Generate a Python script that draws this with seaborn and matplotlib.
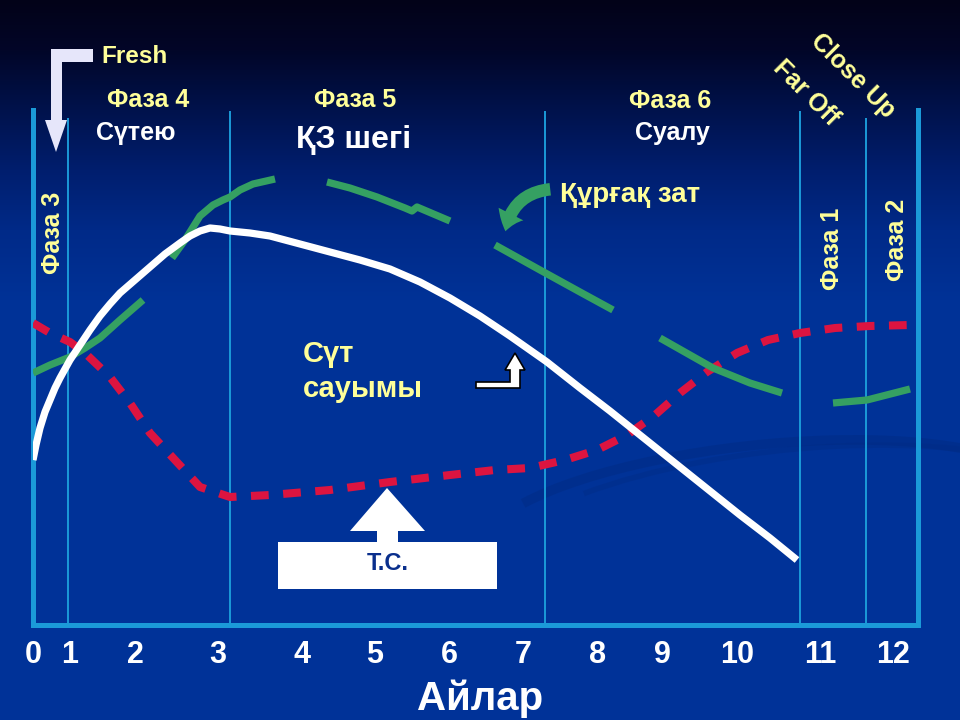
import numpy as np
import pandas as pd
import matplotlib
matplotlib.use('Agg')
import matplotlib.pyplot as plt
import seaborn as sns
from matplotlib.patches import Polygon, Rectangle, FancyArrowPatch, Arc

sns.set_theme(style='white')
plt.rcParams['font.family'] = ['Liberation Sans', 'DejaVu Sans']

# ---------------- data ----------------
month_labels = [str(i) for i in range(13)]
month_pos = [33, 70, 135, 218, 302, 375, 449, 523, 598, 662, 737, 820, 893]
phase_lines = [68, 230, 545, 800, 866]
phase_tops = [507, 514, 514, 514, 507]

# milk yield (Сүт сауымы)
milk_x = [33, 36, 40, 45, 50, 55, 60, 70, 80, 90, 100, 110, 120, 135, 150, 165,
          180, 190, 200, 210, 220, 230, 250, 270, 300, 330, 360, 390, 420, 450,
          480, 510, 547, 580, 610, 640, 670, 705, 740, 770, 797]
milk_y = [165, 180, 197, 213, 225, 237, 247, 265, 280, 295, 309, 321, 332, 345, 358, 371,
          382, 389, 394, 397, 396, 394, 392, 389, 381, 373, 365, 356, 343, 327,
          309, 289, 263, 237, 214, 190, 166, 138, 110, 87, 65]

# dry matter intake (Құрғақ зат), drawn as separate long dashes
dm_x = [33, 50, 70, 85, 100, 120, 143,
        172, 185, 200, 213, 223, 230, 240, 253, 275,
        327, 350, 377, 405, 412, 417, 450,
        495, 540, 580, 613,
        660, 690, 713, 750, 782,
        833, 867, 910]
dm_y = [252, 260, 268, 277, 287, 305, 325,
        367, 385, 409, 420, 425, 428, 435, 441, 446,
        443, 437, 428, 417, 414, 418, 404,
        380, 355, 333, 315,
        287, 270, 257, 242, 232,
        222, 225, 236]
dm_seg = [1] * 7 + [2] * 9 + [3] * 7 + [4] * 4 + [5] * 5 + [6] * 3

# body condition score (Т.С.)
bcs_x = [33, 50, 70, 85, 110, 130, 150, 175, 200, 230, 270, 330, 390, 450, 495,
         530, 565, 597, 627, 655, 680, 707, 737, 768, 800, 835, 870, 910]
bcs_y = [302, 292, 283, 272, 248, 222, 192, 165, 138, 128, 130, 135, 143, 150, 155,
         157, 165, 175, 190, 210, 232, 253, 272, 285, 292, 297, 299, 300]

# ---------------- figure ----------------
W, H = 960, 720
fig = plt.figure(figsize=(9.6, 7.2), dpi=100)

# background gradient
bg = fig.add_axes([0, 0, 1, 1])
bg.axis('off')
rows = np.arange(H)
stops_y = [0, 50, 110, 170, 230, 300, 720]
stops_r = [2, 2, 0, 0, 0, 0, 0]
stops_g = [2, 6, 18, 30, 42, 50, 51]
stops_b = [24, 40, 76, 110, 136, 151, 153]
grad = np.stack([np.interp(rows, stops_y, stops_r),
                 np.interp(rows, stops_y, stops_g),
                 np.interp(rows, stops_y, stops_b)], axis=-1) / 255.0
grad = np.repeat(grad[:, None, :], 4, axis=1)
bg.imshow(grad, extent=[0, W, H, 0], aspect='auto')
bg.set_xlim(0, W)
bg.set_ylim(H, 0)
# faint background swooshes
sw = '#002b82'
for (cx, cy, w, h, ang, t1, t2, lw, a) in [
        (760, 520, 560, 150, -6, 190, 360, 7, 0.45),
        (790, 545, 620, 190, -6, 200, 350, 4, 0.35)]:
    bg.add_patch(Arc((cx, cy), w, h, angle=ang, theta1=t1, theta2=t2,
                     color=sw, lw=lw, alpha=a))

# chart axes
AXC = '#1b9ad8'
ax = fig.add_axes([33 / W, 95 / H, 885 / W, 515 / H])
ax.set_facecolor('none')
ax.set_xlim(33, 918)
ax.set_ylim(0, 515)
for s in ['left', 'bottom', 'right']:
    ax.spines[s].set_visible(True)
    ax.spines[s].set_color(AXC)
    ax.spines[s].set_linewidth(3.6)
ax.spines['top'].set_visible(False)

ax.vlines(phase_lines, 0, phase_tops, color=AXC, lw=1.4, zorder=1)

sns.lineplot(x=bcs_x, y=bcs_y, ax=ax, color='#dc1440', lw=5.8,
             linestyle=(0, (2.2, 1.8)), dash_capstyle='butt', zorder=3)
dm_df = pd.DataFrame({'x': dm_x, 'y': dm_y, 'seg': dm_seg})
sns.lineplot(data=dm_df, x='x', y='y', units='seg', estimator=None, sort=False,
             ax=ax, color='#35a062', lw=5.2, solid_capstyle='butt',
             solid_joinstyle='round', zorder=4)
sns.lineplot(x=milk_x, y=milk_y, ax=ax, color='white', lw=5.2,
             solid_capstyle='butt', solid_joinstyle='round', zorder=5)

ax.set_xticks(month_pos)
ax.set_xticklabels(month_labels, fontsize=22, fontweight='bold', color='white')
ax.tick_params(axis='x', length=0, pad=11)
ax.set_yticks([])
ax.set_xlabel('')
ax.set_ylabel('')

# overlay for annotations (pixel coordinates)
ov = fig.add_axes([0, 0, 1, 1])
ov.set_xlim(0, W)
ov.set_ylim(H, 0)
ov.axis('off')
ov.patch.set_alpha(0)

Y = '#ffff99'
ov.text(480, 710, 'Айлар', color='white', fontsize=29, fontweight='bold',
        ha='center', va='baseline')

ov.text(101, 63, 'Fresh', color=Y, fontsize=17.5, fontweight='bold', ha='left', va='baseline')
ov.add_patch(Polygon([(51, 49), (93, 49), (93, 62), (62, 62), (62, 120), (67, 120),
                      (56, 152), (45, 120), (51, 120)], closed=True,
                     fc='#e6e6fa', ec='none', zorder=6))

ov.text(148, 107, 'Фаза 4', color=Y, fontsize=18, fontweight='bold', ha='center', va='baseline')
ov.text(136, 140, 'Сүтею', color='white', fontsize=18, fontweight='bold', ha='center', va='baseline')
ov.text(355, 107, 'Фаза 5', color=Y, fontsize=18, fontweight='bold', ha='center', va='baseline')
ov.text(354, 148, 'ҚЗ шегі', color='white', fontsize=23, fontweight='bold', ha='center', va='baseline')
ov.text(670, 108, 'Фаза 6', color=Y, fontsize=18, fontweight='bold', ha='center', va='baseline')
ov.text(672, 140, 'Суалу', color='white', fontsize=18, fontweight='bold', ha='center', va='baseline')
ov.text(853, 76, 'Close Up', color=Y, fontsize=18, fontweight='bold', ha='center', va='center',
        rotation=-45, rotation_mode='anchor')
ov.text(806, 93, 'Far Off', color=Y, fontsize=18, fontweight='bold', ha='center', va='center',
        rotation=-45, rotation_mode='anchor')
ov.text(560, 202, 'Құрғақ зат', color=Y, fontsize=20, fontweight='bold', ha='left', va='baseline')

ov.text(53, 233, 'Фаза 3', color=Y, fontsize=18, fontweight='bold', ha='center', va='center', rotation=90)
ov.text(832, 249, 'Фаза 1', color=Y, fontsize=18, fontweight='bold', ha='center', va='center', rotation=90)
ov.text(897, 240, 'Фаза 2', color=Y, fontsize=18, fontweight='bold', ha='center', va='center', rotation=90)

ov.text(303, 362, 'Сүт', color=Y, fontsize=21, fontweight='bold', ha='left', va='baseline')
ov.text(303, 397, 'сауымы', color=Y, fontsize=21, fontweight='bold', ha='left', va='baseline')

# small bent arrow
ov.add_patch(Polygon([(476, 382), (510, 382), (510, 370), (505, 370), (515, 353),
                      (525, 370), (520, 370), (520, 388), (476, 388)], closed=True,
                     fc='white', ec='black', lw=1.2, zorder=6))

# T.C. box with arrow
ov.add_patch(Rectangle((278, 542), 219, 47, fc='white', ec='none', zorder=6))
ov.add_patch(Polygon([(377, 543), (377, 531), (350, 531), (387, 488), (425, 531),
                      (398, 531), (398, 543)], closed=True, fc='white', ec='none', zorder=6))
ov.text(388, 570, 'Т.С.', color='#0a2f8c', fontsize=17, fontweight='bold',
        ha='center', va='baseline', zorder=7)

# curved green arrow
ov.add_patch(FancyArrowPatch((553, 189), (505, 234),
                             connectionstyle='arc3,rad=0.4',
                             arrowstyle='simple,tail_width=9,head_width=20,head_length=13',
                             mutation_scale=1, fc='#35a062', ec='none', zorder=6))

fig.savefig('out.png', dpi=100)
